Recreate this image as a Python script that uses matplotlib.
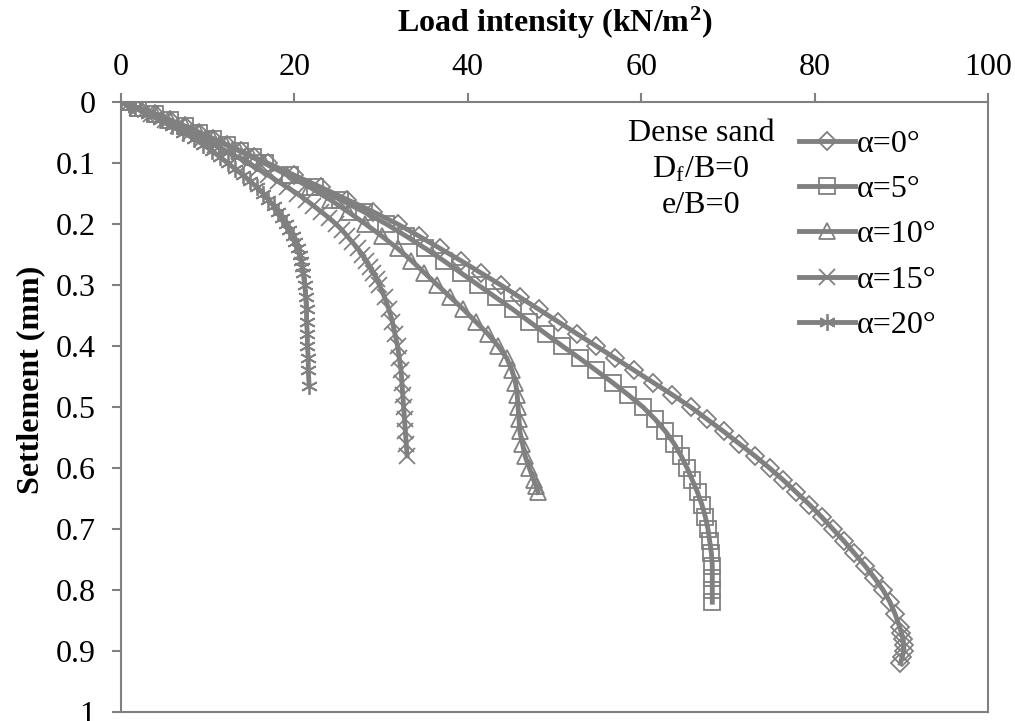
import matplotlib
matplotlib.use('Agg')
import matplotlib.pyplot as plt

# Settlement (mm) and load intensity (kN/m2)
s_a0 = [0, 0.01, 0.02, 0.03, 0.04, 0.05, 0.06, 0.07, 0.08, 0.09, 0.10,
        0.12, 0.14, 0.16, 0.18, 0.20, 0.22, 0.24, 0.26, 0.28, 0.30,
        0.32, 0.34, 0.36, 0.38, 0.40, 0.42, 0.44, 0.46, 0.48, 0.50,
        0.52, 0.54, 0.56, 0.58, 0.60, 0.62, 0.64, 0.66, 0.68, 0.70,
        0.72, 0.74, 0.76, 0.78, 0.80, 0.82, 0.84, 0.86, 0.87, 0.88,
        0.89, 0.90, 0.91, 0.92]
q_a0 = [0, 2.0, 3.9, 5.7, 7.4, 9.0, 10.6, 12.2, 13.8, 15.3, 16.9,
        20.0, 23.1, 26.1, 29.1, 31.9, 34.4, 36.8, 39.2, 41.5, 43.8,
        46.0, 48.2, 50.4, 52.6, 54.8, 57.0, 59.2, 61.4, 63.6, 65.7,
        67.6, 69.5, 71.3, 73.1, 74.8, 76.4, 77.9, 79.4, 80.8, 82.1,
        83.4, 84.6, 85.8, 86.9, 87.9, 88.7, 89.3, 89.8, 90.0, 90.2,
        90.3, 90.3, 90.1, 89.9]

s_a5 = [0, 0.01, 0.02, 0.03, 0.04, 0.05, 0.06, 0.07, 0.08, 0.09, 0.10,
        0.12, 0.14, 0.16, 0.18, 0.20, 0.22, 0.24, 0.26, 0.28, 0.30,
        0.32, 0.34, 0.36, 0.38, 0.40, 0.42, 0.44, 0.46, 0.48, 0.50,
        0.52, 0.54, 0.56, 0.58, 0.60, 0.62, 0.64, 0.66, 0.68, 0.70,
        0.72, 0.74, 0.76, 0.78, 0.80, 0.82]
q_a5 = [0, 2.0, 3.9, 5.7, 7.4, 9.0, 10.6, 12.2, 13.7, 15.2, 16.6,
        19.5, 22.4, 25.3, 28.0, 30.6, 32.9, 35.1, 37.2, 39.2, 41.2,
        43.2, 45.2, 47.1, 49.0, 50.9, 52.9, 54.8, 56.7, 58.5, 60.2,
        61.6, 62.8, 63.8, 64.6, 65.3, 65.9, 66.5, 67.0, 67.4, 67.7,
        67.9, 68.1, 68.2, 68.2, 68.2, 68.2]

s_a10 = [0, 0.01, 0.02, 0.03, 0.04, 0.05, 0.06, 0.07, 0.08, 0.09, 0.10,
         0.12, 0.14, 0.16, 0.18, 0.20, 0.22, 0.24, 0.26, 0.28, 0.30,
         0.32, 0.34, 0.36, 0.38, 0.40, 0.42, 0.44, 0.46, 0.48, 0.50,
         0.52, 0.54, 0.56, 0.58, 0.60, 0.62, 0.63, 0.64]
q_a10 = [0, 2.0, 3.9, 5.7, 7.4, 9.0, 10.6, 12.1, 13.6, 15.1, 16.5,
         19.2, 21.8, 24.1, 26.2, 28.2, 30.1, 31.9, 33.5, 35.0, 36.5,
         38.0, 39.5, 40.9, 42.3, 43.5, 44.5, 45.1, 45.5, 45.7, 45.8,
         45.9, 46.0, 46.3, 46.6, 47.1, 47.6, 47.9, 48.1]

s_a15 = [0, 0.01, 0.02, 0.03, 0.04, 0.05, 0.06, 0.07, 0.08, 0.09, 0.10,
         0.11, 0.12, 0.13, 0.14, 0.15, 0.16, 0.17, 0.18, 0.19, 0.20,
         0.21, 0.22, 0.23, 0.24, 0.25, 0.26, 0.27, 0.28, 0.29, 0.30,
         0.32, 0.34, 0.36, 0.38, 0.40, 0.42, 0.44, 0.46, 0.48, 0.50,
         0.52, 0.54, 0.56, 0.58]
q_a15 = [0, 1.8, 3.5, 5.1, 6.6, 8.0, 9.4, 10.8, 12.1, 13.4, 14.6,
         15.8, 17.0, 18.1, 19.2, 20.3, 21.3, 22.2, 23.1, 24.0, 24.8,
         25.5, 26.1, 26.7, 27.3, 27.8, 28.3, 28.7, 29.1, 29.5, 29.8,
         30.4, 30.9, 31.3, 31.6, 31.9, 32.1, 32.3, 32.4, 32.5, 32.6,
         32.7, 32.8, 32.9, 33.0]

s_a20 = [0, 0.01, 0.02, 0.03, 0.04, 0.05, 0.06, 0.07, 0.08, 0.09, 0.10,
         0.11, 0.12, 0.13, 0.14, 0.15, 0.16, 0.17, 0.18, 0.19, 0.20,
         0.21, 0.22, 0.23, 0.24, 0.25, 0.26, 0.27, 0.28, 0.30, 0.32,
         0.34, 0.36, 0.38, 0.40, 0.42, 0.44, 0.465]
q_a20 = [0, 1.6, 3.1, 4.5, 5.9, 7.2, 8.4, 9.5, 10.5, 11.4, 12.3,
         13.2, 14.1, 14.9, 15.7, 16.4, 17.0, 17.6, 18.1, 18.6, 19.0,
         19.4, 19.8, 20.1, 20.4, 20.6, 20.8, 20.9, 21.0, 21.2, 21.3,
         21.4, 21.4, 21.5, 21.5, 21.6, 21.6, 21.7]

labels = ['α=0°', 'α=5°', 'α=10°', 'α=15°', 'α=20°']
x_ticks = [0, 20, 40, 60, 80, 100]
y_ticks = [0, 0.1, 0.2, 0.3, 0.4, 0.5, 0.6, 0.7, 0.8, 0.9, 1]


def main():
    plt.rcParams['font.family'] = ['Liberation Serif', 'DejaVu Serif']
    plt.rcParams['mathtext.fontset'] = 'stix'
    gray = '#808080'
    fs = 23

    fig = plt.figure(figsize=(10.15, 7.21), dpi=100)
    ax = fig.add_axes([0.1192, 0.0125, 0.8542, 0.8460])

    series = [(q_a0, s_a0, 'D', 9),
              (q_a5, s_a5, 's', 12),
              (q_a10, s_a10, '^', 12),
              (q_a15, s_a15, 'x', 12),
              (q_a20, s_a20, (6, 2, 0), 12)]
    for (q, s, m, ms), lab in zip(series, labels):
        ax.plot(q, s, color=gray, lw=3.5, marker=m, ms=ms, mfc='none',
                mec=gray, mew=1.3, label=lab)

    ax.set_xlim(0, 100)
    ax.set_ylim(1, 0)
    ax.set_xticks(x_ticks)
    ax.set_yticks(y_ticks)
    ax.set_yticklabels([f'{t:g}' for t in y_ticks])
    ax.xaxis.tick_top()
    ax.xaxis.set_label_position('top')
    ax.tick_params(axis='both', direction='out', length=6.5, width=1.5,
                   color=gray, labelsize=fs)
    ax.tick_params(axis='x', pad=8)
    ax.tick_params(axis='y', pad=12)

    for sp in ax.spines.values():
        sp.set_color(gray)
        sp.set_linewidth(1.5)

    ax.set_xlabel('Load intensity (kN/m$^{\\mathregular{2}}$)', fontsize=fs,
                  fontweight='bold')
    ax.xaxis.set_label_coords(0.5, 1.13)
    ax.xaxis.label.set_va('center')
    ax.set_ylabel('Settlement (mm)', fontsize=fs, fontweight='bold')
    ax.yaxis.set_label_coords(-0.104, 0.545)
    ax.yaxis.label.set_va('center')

    ax.text(66.9, 0.111, 'Dense sand\nD$_{\\mathregular{f}}$/B=0\ne/B=0',
            ha='center', va='center', fontsize=fs, linespacing=1.3)

    ax.legend(loc='upper left', bbox_to_anchor=(0.782, 0.955), frameon=False,
              fontsize=fs, numpoints=1, handlelength=1.75, handletextpad=0.05,
              labelspacing=0.5, borderaxespad=0, borderpad=0)

    fig.savefig('out.png', dpi=100)


if __name__ == '__main__':
    main()
